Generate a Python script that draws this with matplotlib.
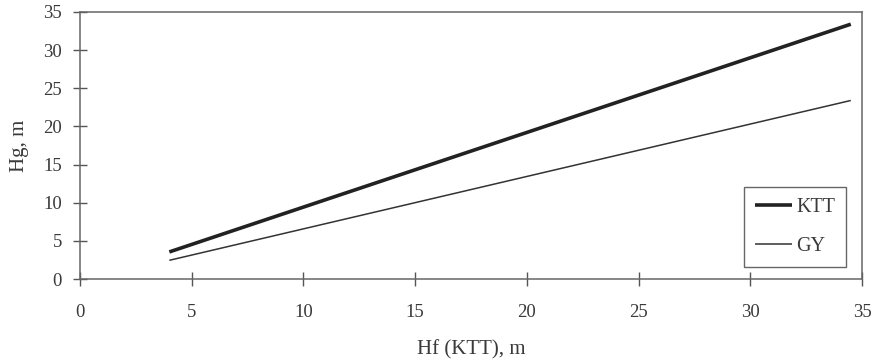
import numpy as np
import matplotlib
matplotlib.use("Agg")
import matplotlib.pyplot as plt

matplotlib.rcParams["font.family"] = "serif"
matplotlib.rcParams["font.serif"] = ["Liberation Serif", "DejaVu Serif"]

hf = [4.0, 34.5]
hg_ktt = [3.55, 33.4]
hg_gy = [2.45, 23.4]

txt = "#3a3a3a"
fig = plt.figure(figsize=(8.72, 3.63), dpi=100)
ax = fig.add_axes([0.0917, 0.2314, 0.8968, 0.7356])

ax.plot(hf, hg_ktt, color="#222222", lw=2.6, label="KTT", solid_capstyle="butt")
ax.plot(hf, hg_gy, color="#333333", lw=1.1, label="GY", solid_capstyle="butt")

ax.set_xlim(0, 35)
ax.set_ylim(0, 35)
ax.set_xticks(np.arange(0, 36, 5))
ax.set_yticks(np.arange(0, 36, 5))
ax.tick_params(direction="inout", length=10, width=1, colors="#555555",
               labelcolor=txt, labelsize=13.5)
ax.tick_params(axis="x", pad=13)
ax.tick_params(axis="y", pad=8)
for sp in ax.spines.values():
    sp.set_color("#666666")
    sp.set_linewidth(1.1)

ax.set_xlabel("Hf (KTT), m", fontsize=15, color=txt, labelpad=14)
ax.set_ylabel("Hg, m", fontsize=15, color=txt, labelpad=10)

leg = ax.legend(loc="lower right", bbox_to_anchor=(0.98, 0.046), fancybox=False,
                framealpha=1, edgecolor="#666666", fontsize=14.5, handlelength=1.85,
                handletextpad=0.2, borderpad=0.55, labelspacing=0.95,
                borderaxespad=0)
leg.get_frame().set_linewidth(1.0)
for t in leg.get_texts():
    t.set_color(txt)

fig.savefig("out.png", dpi=100)
